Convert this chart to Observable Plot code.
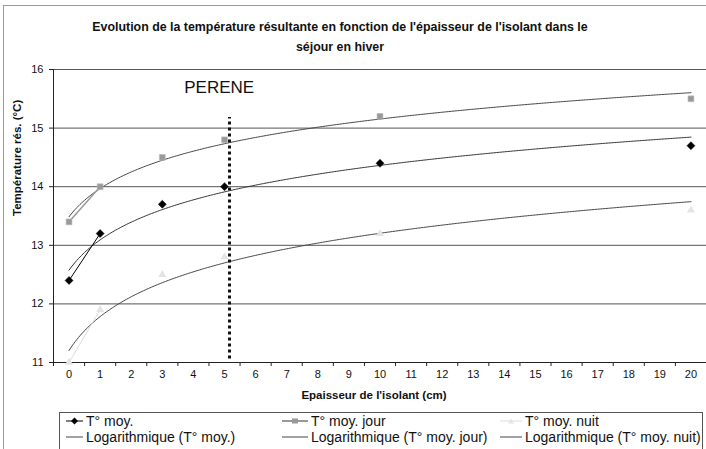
<!DOCTYPE html>
<html><head><meta charset="utf-8">
<script src="https://cdn.jsdelivr.net/npm/d3@7"></script>
<script src="https://cdn.jsdelivr.net/npm/@observablehq/plot@0.6"></script>
<style>
body{margin:0;background:#fff;font-family:"Liberation Sans",Arial,sans-serif;}
#wrap{position:relative;width:706px;height:449px;overflow:hidden;background:#fff;}
#frame{position:absolute;left:3px;top:5px;width:800px;height:600px;border:1px solid #999;}
#title{position:absolute;left:0;width:680px;top:17px;text-align:center;font-weight:bold;font-size:12.4px;line-height:20px;color:#111;}
#chart{position:absolute;left:0;top:58px;}
#legend{position:absolute;left:59px;top:412px;width:642px;height:60px;border:1px solid #555;}
.sw{position:absolute;}
.lt{position:absolute;font-size:14px;line-height:16px;color:#111;white-space:nowrap;}
</style></head>
<body>
<div id="wrap">
  <div id="frame"></div>
  <div id="title">Evolution de la température résultante en fonction de l'épaisseur de l'isolant dans le<br>séjour en hiver</div>
  <div id="chart"></div>
  <div id="legend"></div>
</div>
<script>
// ---- data ----
const xTicks = [0,1,2,3,4,5,6,7,8,9,10,11,12,13,14,15,16,17,18,19,20];
const yTicks = [11,12,13,14,15,16];
const epaisseur = [0,1,3,5,10,20];
const tMoy  = [12.4,13.2,13.7,14.0,14.4,14.7];
const tJour = [13.4,14.0,14.5,14.8,15.2,15.5];
const tNuit = [11.0,11.9,12.5,12.8,13.2,13.6];
const seriesNames = ["T° moy.","T° moy. jour","T° moy. nuit"];
const trendNames = ["Logarithmique (T° moy.)","Logarithmique (T° moy. jour)","Logarithmique (T° moy. nuit)"];
const pereneX = [5.16];
const pereneY = [11.06, 15.18];
const pereneLabel = [{x: 4.83, y: 15.69, text: "PERENE"}];
const xTitle = "Epaisseur de l'isolant (cm)";
const yTitle = "Température rés. (°C)";

// ---- helpers ----
// Excel category chart: full category list, gaps where no value
function fullSeries(vals){
  return xTicks.map(c => {
    const i = epaisseur.indexOf(c);
    return {x: c, y: i >= 0 ? vals[i] : NaN};
  });
}
// Excel logarithmic trendline on a category axis (x index = category position + 1)
function logTrend(vals){
  const lx = epaisseur.map(e => Math.log(xTicks.indexOf(e) + 1));
  const mx = d3.mean(lx), my = d3.mean(vals);
  let sxy = 0, sxx = 0;
  lx.forEach((v,i) => { sxy += (v-mx)*(vals[i]-my); sxx += (v-mx)*(v-mx); });
  const a = sxy/sxx, b = my - a*mx;
  const pts = [];
  for (let k = 0; k <= 400; k++) { const x = k*20/400; pts.push({x, y: a*Math.log(x+1)+b}); }
  return pts;
}
const pts = (vals) => epaisseur.map((e,i) => ({x: e, y: vals[i]}));
const bounds = [-0.5, ...xTicks.map(d => d + 0.5)];

const plot = Plot.plot({
  width: 706, height: 347,
  marginLeft: 53, marginRight: 0, marginTop: 11, marginBottom: 43,
  x: {type: "linear", domain: [-0.5, 20.5], axis: null},
  y: {domain: [11, 16], axis: null},
  style: {fontFamily: "'Liberation Sans', Arial, sans-serif", color: "#111", background: "transparent"},
  marks: [
    Plot.ruleY(yTicks.slice(1), {stroke: "#555", strokeWidth: 1}),
    Plot.ruleY([11], {stroke: "#222"}),
    Plot.ruleX([-0.5], {stroke: "#222"}),
    Plot.axisY(yTicks, {tickSize: 4, tickPadding: 6, fontSize: 11, label: null, stroke: "#222", tickFormat: d => String(d)}),
    Plot.axisX(bounds, {tickSize: 4, tickFormat: () => "", label: null, stroke: "#222"}),
    Plot.axisX(xTicks, {tickSize: 0, tickPadding: 8, fontSize: 11, label: null, tickFormat: d => String(d)}),
    Plot.text([xTitle], {frameAnchor: "bottom", dy: 36, dx: -6, text: d => d, fontWeight: "bold", fontSize: 11.5}),
    Plot.text([yTitle], {frameAnchor: "left", dx: -36, rotate: -90, text: d => d, fontWeight: "bold", fontSize: 11.5}),
    Plot.line(logTrend(tJour), {x: "x", y: "y", stroke: "#444", strokeWidth: 1}),
    Plot.line(logTrend(tMoy), {x: "x", y: "y", stroke: "#333", strokeWidth: 1}),
    Plot.line(logTrend(tNuit), {x: "x", y: "y", stroke: "#444", strokeWidth: 1}),
    Plot.line(fullSeries(tJour), {x: "x", y: "y", stroke: "#999", strokeWidth: 1.5}),
    Plot.line(fullSeries(tMoy), {x: "x", y: "y", stroke: "#000", strokeWidth: 1}),
    Plot.line(fullSeries(tNuit), {x: "x", y: "y", stroke: "#ddd", strokeWidth: 1}),
    Plot.dot(pts(tNuit), {x: "x", y: "y", symbol: "triangle", r: 3, fill: "#e4e4e4"}),
    Plot.dot(pts(tJour), {x: "x", y: "y", symbol: "square", r: 3.3, fill: "#999", stroke: "#bbb", strokeWidth: 0.6}),
    Plot.dot(pts(tMoy), {x: "x", y: "y", symbol: "diamond2", r: 3.6, fill: "#000", stroke: "#000", strokeWidth: 0.5}),
    Plot.ruleX(pereneX, {y1: pereneY[0], y2: pereneY[1], stroke: "#111", strokeWidth: 3, strokeDasharray: "3,3"}),
    Plot.text(pereneLabel, {x: "x", y: "y", text: "text", fontSize: 17, fill: "#111"})
  ]
});
document.getElementById("chart").appendChild(plot);

// ---- legend ----
const legend = document.getElementById("legend");
const cols = [{sx: 6, sw: 17, tx: 26}, {sx: 222, sw: 26, tx: 251}, {sx: 440, sw: 22, tx: 465}];
const sym = [
  {stroke: "#000", sw: 1, marker: (cx) => `<path d="M${cx},3.5 L${cx+3.5},7 L${cx},10.5 L${cx-3.5},7Z" fill="#000"/>`},
  {stroke: "#999", sw: 2, marker: (cx) => `<rect x="${cx-3}" y="4.5" width="6" height="5" fill="#999"/>`},
  {stroke: "#ddd", sw: 1, marker: (cx) => `<path d="M${cx},4.5 L${cx+3},9.5 L${cx-3},9.5Z" fill="#e4e4e4"/>`}
];
cols.forEach((c, i) => {
  const s = sym[i];
  legend.insertAdjacentHTML("beforeend",
    `<svg class="sw" style="left:${c.sx}px;top:1px" width="${c.sw}" height="14"><line x1="0" x2="${c.sw}" y1="7" y2="7" stroke="${s.stroke}" stroke-width="${s.sw}"/>${s.marker(c.sw/2)}</svg>` +
    `<div class="lt" style="left:${c.tx}px;top:0px">${seriesNames[i]}</div>` +
    `<svg class="sw" style="left:${c.sx}px;top:17px" width="${c.sw}" height="14"><line x1="0" x2="${c.sw}" y1="7" y2="7" stroke="#444" stroke-width="1"/></svg>` +
    `<div class="lt" style="left:${c.tx}px;top:16px">${trendNames[i]}</div>`);
});
</script>
</body></html>
